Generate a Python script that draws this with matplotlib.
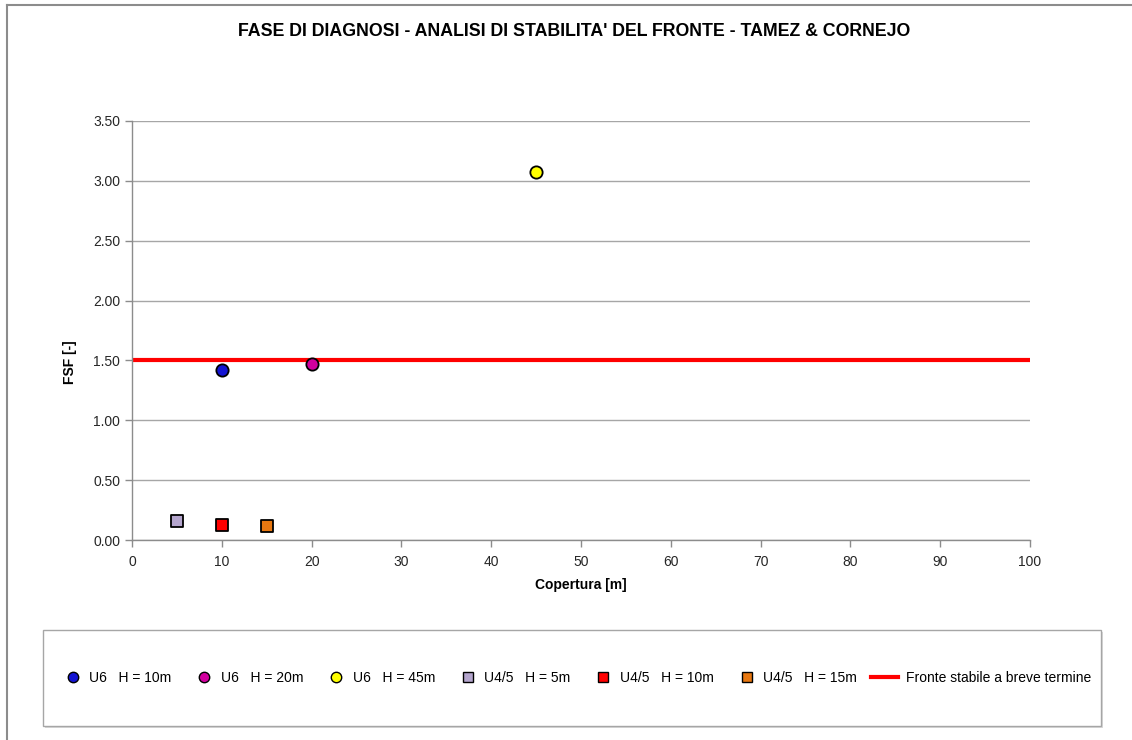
import matplotlib
matplotlib.use("Agg")
import matplotlib.pyplot as plt
from matplotlib.lines import Line2D
from matplotlib.patches import Rectangle
from matplotlib.legend_handler import HandlerLine2D

plt.rcParams['font.family'] = ['Liberation Sans', 'DejaVu Sans']

# Data
labels = ["U6   H = 10m", "U6   H = 20m", "U6   H = 45m",
          "U4/5   H = 5m", "U4/5   H = 10m", "U4/5   H = 15m"]
x_cop = [10, 20, 45, 5, 10, 15]
y_fsf = [1.42, 1.47, 3.07, 0.16, 0.125, 0.115]
markers = ["o", "o", "o", "s", "s", "s"]
colors = ["#1414d2", "#d2009f", "#ffff00", "#b4a5cd", "#ff0000", "#e87811"]
threshold = 1.50
threshold_label = "Fronte stabile a breve termine"
xticks = list(range(0, 101, 10))
yticks = [0.0, 0.5, 1.0, 1.5, 2.0, 2.5, 3.0, 3.5]

fig = plt.figure(figsize=(11.32, 7.40), dpi=100)
ax = fig.add_axes([132/1132, 1-540/740, (1030-132)/1132, (540-121)/740])

ax.set_xlim(0, 100)
ax.set_ylim(0, 3.5)
ax.set_xticks(xticks)
ax.set_yticks(yticks)
ax.set_yticklabels([f"{v:.2f}" for v in yticks])
ax.grid(axis='y', color='#a6a6a6', linewidth=1)
ax.set_axisbelow(True)
for s in ['top', 'right']:
    ax.spines[s].set_visible(False)
for s in ['left', 'bottom']:
    ax.spines[s].set_color('#8c8c8c')
    ax.spines[s].set_linewidth(1)
ax.tick_params(axis='both', colors='#8c8c8c', length=5, width=1,
               labelcolor='#262626', labelsize=10)
ax.tick_params(axis='x', pad=6)

ax.axhline(threshold, color='#ff0000', linewidth=3, zorder=2)

handles = []
for xi, yi, m, c, lab in zip(x_cop, y_fsf, markers, colors, labels):
    ax.scatter([xi], [yi], marker=m, s=78, color=c, edgecolor='black',
               linewidth=1.3, zorder=3)
    handles.append(Line2D([], [], marker=m, linestyle='none', markersize=7.5,
                          markerfacecolor=c, markeredgecolor='black',
                          markeredgewidth=1, label=lab))
line_handle = Line2D([], [], color='#ff0000', linewidth=3, label=threshold_label)
handles.append(line_handle)

ax.set_xlabel("Copertura [m]", fontsize=10, fontweight='bold', labelpad=6)
ax.set_ylabel("FSF [-]", fontsize=10, fontweight='bold')
ax.yaxis.set_label_coords(-0.061, 0.425)

fig.text(574/1132, 1-32/740, "FASE DI DIAGNOSI - ANALISI DI STABILITA' DEL FRONTE - TAMEZ & CORNEJO",
         ha='center', va='center', fontsize=12.8, fontweight='bold')

# legend box
lx0, ly0, lx1, ly1 = 43, 630, 1101, 726
fig.patches.append(Rectangle((lx0/1132 + 2/1132, 1-(ly1+2)/740), (lx1-lx0)/1132, (ly1-ly0)/740,
                             transform=fig.transFigure, facecolor='#d9d9d9', edgecolor='none', zorder=0))
fig.patches.append(Rectangle((lx0/1132, 1-ly1/740), (lx1-lx0)/1132, (ly1-ly0)/740,
                             transform=fig.transFigure, facecolor='white', edgecolor='#a6a6a6',
                             linewidth=1, zorder=1))


class LongLineHandler(HandlerLine2D):
    def create_artists(self, legend, orig_handle, xdescent, ydescent, width, height, fontsize, trans):
        extra = width * 0.6
        return super().create_artists(legend, orig_handle, xdescent + extra, ydescent,
                                      width + extra, height, fontsize, trans)


leg = fig.legend(handles=handles, loc='center', bbox_to_anchor=(578/1132, 1-678/740),
                 ncol=7, frameon=False, fontsize=10, handlelength=1.2,
                 columnspacing=1.75, handletextpad=0.6,
                 handler_map={line_handle: LongLineHandler()})

# figure border (top and left)
fig.add_artist(Line2D([7/1132, 1], [1-5/740, 1-5/740], transform=fig.transFigure,
                      color='#8c8c8c', linewidth=1.5))
fig.add_artist(Line2D([7/1132, 7/1132], [0, 1-5/740], transform=fig.transFigure,
                      color='#8c8c8c', linewidth=1.5))

fig.savefig("out.png", dpi=100)
